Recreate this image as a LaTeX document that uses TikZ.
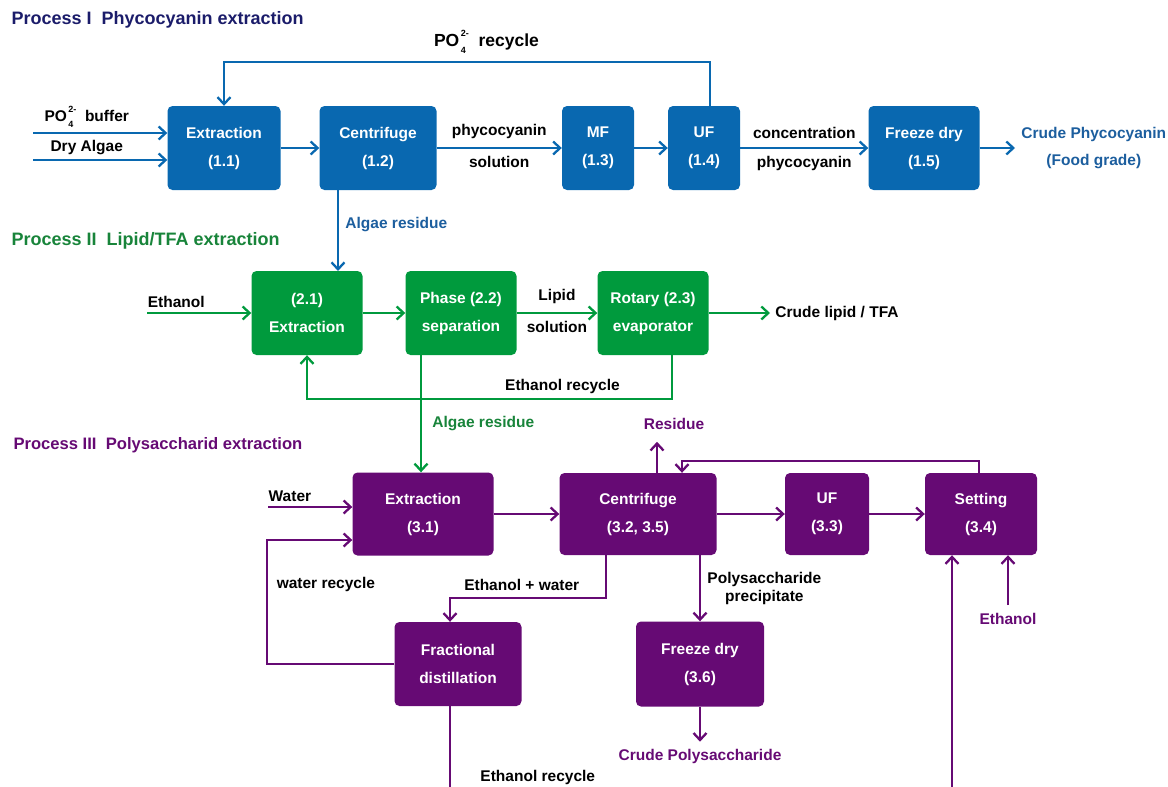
\documentclass[tikz,border=0pt]{standalone}
\usepackage{fontspec}
\setmainfont{Liberation Sans}
\usetikzlibrary{arrows.meta,positioning}

\definecolor{pcblue}{RGB}{9,104,176}
\definecolor{pcnavy}{RGB}{27,28,106}
\definecolor{pclabel}{RGB}{28,94,158}
\definecolor{lpgreen}{RGB}{0,154,61}
\definecolor{lpdark}{RGB}{24,132,58}
\definecolor{pspurple}{RGB}{102,10,116}

\newcommand{\phos}{PO\rlap{\raisebox{-0.4em}{\fontsize{9}{9}\selectfont\,4}}\raisebox{0.55em}{\fontsize{9}{9}\selectfont\,2-}}

\begin{document}
\begin{tikzpicture}[x=1pt,y=-1pt,node distance=2cm,on grid,
    font=\bfseries\fontsize{15.5}{18}\selectfont,
    box/.style={rounded corners=5pt,text=white,align=center,inner sep=0pt,minimum height=84pt},
    bbox/.style={box,fill=pcblue},
    gbox/.style={box,fill=lpgreen},
    pbox/.style={box,fill=pspurple},
    flow/.style={line width=2.3pt,-{Straight Barb[length=7pt,width=13pt]}},
    bflow/.style={flow,draw=pcblue},
    gflow/.style={flow,draw=lpgreen},
    pflow/.style={flow,draw=pspurple},
    ptitle/.style={anchor=west,font=\bfseries\fontsize{18}{21}\selectfont}]
\useasboundingbox (0,0) rectangle (1168,787);

% Process I
\node[ptitle,text=pcnavy] (t1) at (8,20) {Process I\ \ Phycocyanin extraction};
\node[bbox,minimum width=113pt] (e11) at (224,148) {Extraction\\[10pt](1.1)};
\node[bbox,minimum width=117pt] (c12) [right=154pt of e11] {Centrifuge\\[10pt](1.2)};
\node[bbox,minimum width=72pt] (m13) [right=220pt of c12] {MF\\[10pt](1.3)};
\node[bbox,minimum width=72pt] (u14) [right=106pt of m13] {UF\\[10pt](1.4)};
\node[bbox,minimum width=111pt] (f15) [right=220pt of u14] {Freeze dry\\[10pt](1.5)};
\coordinate (po) at (33,133);
\coordinate (dry) at (33,160);
\coordinate (cp) at (1015,148);

\draw[bflow] (po) -- (po -| e11.west) node[pos=0.4,above=1pt] (l1) {\phos\ \ buffer};
\draw[bflow] (dry) -- (dry -| e11.west) node[pos=0.4,above=1pt] (l2) {Dry Algae};
\draw[bflow] ([xshift=6pt]u14.north) -- ++(0,-44) -| (e11.north)
    node[pos=0.23,above=4pt,font=\bfseries\fontsize{17.5}{20}\selectfont] (l3) {\phos\ \ recycle};
\draw[bflow] (e11) -- (c12);
\draw[bflow] (c12) -- (m13) node[midway,above=5pt] (l4) {phycocyanin}
    node[midway,below=4pt] (l5) {solution};
\draw[bflow] (m13) -- (u14);
\draw[bflow] (u14) -- (f15) node[midway,above=5pt] (l6) {concentration}
    node[midway,below=4pt] (l7) {phycocyanin};
\draw[bflow] (f15) -- (cp) node[right=2pt,align=center,text=pclabel] (l8) {Crude Phycocyanin\\[9pt](Food grade)};
\draw[bflow] ([xshift=-40pt]c12.south) -- ([xshift=-40pt]c12.south |- 0,271)
    node[pos=0.43,right=3pt,text=pclabel] (l9) {Algae residue};

% Process II
\node[ptitle,text=lpdark] (t2) at (8,241) {Process II\ \ Lipid/TFA extraction};
\node[gbox,minimum width=111pt] (e21) at (307,313) {(2.1)\\[10pt]Extraction};
\node[gbox,minimum width=111pt] (p22) [right=154pt of e21] {Phase (2.2)\\[10pt]separation};
\node[gbox,minimum width=111pt] (r23) [right=192pt of p22] {Rotary (2.3)\\[10pt]evaporator};
\coordinate (eth) at (147,313);
\coordinate (cl) at (770,313);

\draw[gflow] (eth) -- (e21) node[pos=0.28,above=1pt] (l10) {Ethanol};
\draw[gflow] (e21) -- (p22);
\draw[gflow] (p22) -- (r23) node[midway,above=5pt] (l11) {Lipid}
    node[midway,below=4pt] (l12) {solution};
\draw[gflow] (r23) -- (cl) node[right=1pt] (l13) {Crude lipid / TFA};
\draw[gflow] ([xshift=19pt]r23.south) -- ++(0,44) -| (e21.south)
    node[pos=0.15,above=1pt] (l14) {Ethanol recycle};

% Process III
\node[ptitle,text=pspurple,font=\bfseries\fontsize{16.6}{20}\selectfont] (t3) at (10,445) {Process III\ \ Polysaccharid extraction};
\node[pbox,minimum width=141pt,minimum height=83pt] (e31) at (423,514) {Extraction\\[10pt](3.1)};
\node[pbox,minimum width=157pt,minimum height=82pt] (c32) [right=215pt of e31] {Centrifuge\\[10pt](3.2, 3.5)};
\node[pbox,minimum width=84pt,minimum height=82pt] (u33) [right=189pt of c32] {UF\\[10pt](3.3)};
\node[pbox,minimum width=112pt,minimum height=82pt] (s34) [right=154pt of u33] {Setting\\[10pt](3.4)};
\node[pbox,minimum width=127pt] (fr) at (458,664) {Fractional\\[10pt]distillation};
\node[pbox,minimum width=128pt,minimum height=85pt] (f36) at (700,664) {Freeze dry\\[10pt](3.6)};
\coordinate (wat) at (268,507);
\coordinate (sb) at (952,787);
\coordinate (se) at (1008,605);

\draw[gflow] ([xshift=-40pt]p22.south) -- ([xshift=-40pt]p22.south |- e31.north)
    node[pos=0.58,right=7pt,text=lpdark] (l15) {Algae residue};
\draw[pflow] (wat) -- (wat -| e31.west) node[pos=0.26,above=1pt] (l16) {Water};
\draw[pflow] (fr.west) -- ++(-127,0) |- ([yshift=-26pt]e31.west)
    node[pos=0.32,right=5pt,anchor=west] (l17) {water recycle};
\draw[pflow] (e31) -- (c32);
\draw[pflow] (c32) -- (u33);
\draw[pflow] (u33) -- (s34);
\draw[pflow] ([xshift=19pt]c32.north) -- ++(0,-31)
    node[above=8pt,xshift=17pt,text=pspurple] (l18) {Residue};
\draw[pflow] ([xshift=-2pt]s34.north) -- ++(0,-12) -| ([xshift=44pt]c32.north);
\draw[pflow] ([xshift=-32pt]c32.south) -- ++(0,43) -| ([xshift=-8pt]fr.north)
    node[pos=0.27,above=3pt] (l19) {Ethanol + water};
\draw[pflow] (c32.south -| f36.north) -- (f36.north)
    node[midway,right=3pt,align=center,anchor=west] (l20) {Polysaccharide\\[0pt]precipitate};
\draw[pflow] (f36.south) -- ++(0,35)
    node[below=3pt,text=pspurple] (l21) {Crude Polysaccharide};
\draw[line width=2.3pt,draw=pspurple] ([xshift=-8pt]fr.south) -- ([xshift=-8pt]fr.south |- sb)
    node[pos=0.88,right=26pt,anchor=west] (l22) {Ethanol recycle};
\draw[pflow] (sb) -- (sb |- s34.south);
\draw[pflow] (se) -- (se |- s34.south);
\node[below=5pt,text=pspurple] (l23) at (se) {Ethanol};
\end{tikzpicture}
\end{document}
